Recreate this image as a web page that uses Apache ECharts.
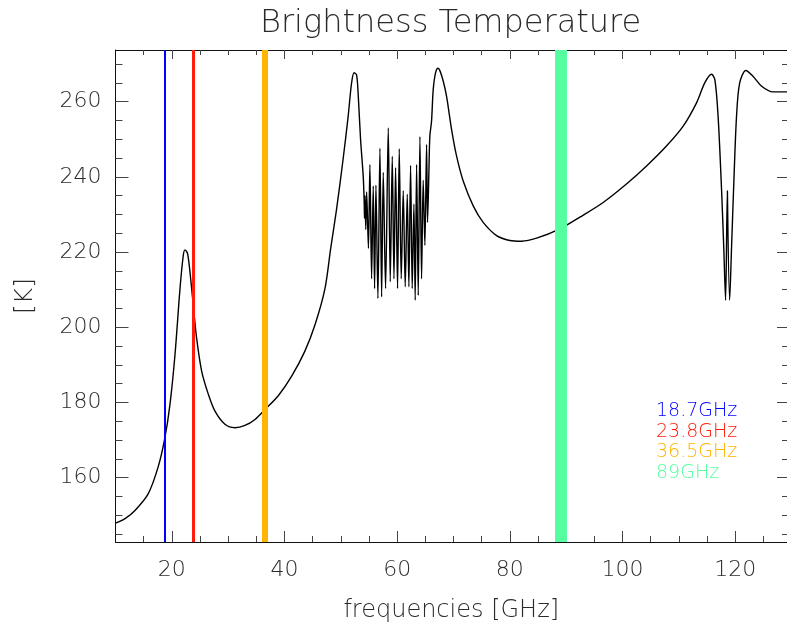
<!DOCTYPE html>
<html><head><meta charset="utf-8">
<script src="https://cdn.jsdelivr.net/npm/echarts@6/dist/echarts.min.js"></script>
<style>html,body{margin:0;padding:0;background:#fff}#c{width:787px;height:628px}</style>
</head><body><div id="c"></div>
<script>
// Brightness temperature spectrum (GHz, K)
const freq = [10.0, 11.69, 13.46, 15.8, 17.6, 18.78, 19.67, 20.56, 21.45, 22.03, 22.33, 22.8, 23.4, 23.8, 24.4, 25.3, 26.5, 27.66, 29.43, 31.2, 32.98, 34.76, 36.5, 38.9, 41.27, 43.6, 45.4, 47.18, 48.2, 49.25, 50.4, 51.3, 51.9, 52.35, 52.8, 53.1, 53.5, 53.98, 54.15,
  54.2, 54.28, 54.43, 54.58, 54.9, 55.16, 55.46, 55.75, 55.99, 56.23, 56.58, 56.94, 57.24, 57.53, 57.94, 58.42, 58.77, 59.13, 59.43, 59.72, 60.07, 60.37, 60.72, 61.08, 61.43, 61.79, 62.08, 62.38, 62.67, 62.97, 63.2, 63.45, 63.74, 64.04, 64.33, 64.62, 64.92, 65.22, 65.39, 65.63,
  65.8, 66.1, 66.4, 66.8, 67.25, 67.6, 68.17, 68.77, 69.66, 70.55, 71.72, 73.5, 75.27, 77.65, 80.0, 82.08, 84.75, 88.88, 92.43, 96.57, 100.7, 104.27, 107.8, 110.77, 113.14, 114.6, 115.8, 116.4, 116.97, 117.58, 117.98, 118.3, 118.62, 118.7, 119.02, 119.35, 119.76, 120.24, 120.8, 121.9, 123.2, 124.7, 126.7, 129.2];
const temp = [147.9, 149.1, 151.3, 155.7, 163.0, 170.7, 179.5, 192.7, 210.3, 219.1, 220.6, 219.6, 212.1, 205.9, 197.1, 188.3, 182.1, 177.7, 174.2, 173.3, 173.9, 175.5, 178.1, 181.8, 187.0, 193.6, 200.6, 210.3, 221.0, 231.5, 244.7, 256.1, 264.9, 267.7, 267.1, 261.4, 250.0, 240.0, 233.0,
  229.0, 235.0, 226.0, 236.0, 221.0, 243.3, 212.9, 237.6, 210.3, 237.8, 207.7, 247.6, 208.1, 241.2, 210.3, 253.0, 212.1, 245.5, 212.9, 242.5, 210.3, 247.5, 212.9, 236.3, 210.8, 235.4, 210.8, 243.1, 210.3, 232.8, 207.2, 243.3, 208.5, 250.7, 212.9, 239.1, 221.8, 248.6, 227.9, 241.2,
  250.8, 254.8, 263.2, 267.6, 268.9, 268.2, 265.5, 261.4, 252.6, 245.5, 238.9, 232.3, 227.9, 224.4, 223.1, 222.9, 223.7, 226.2, 229.3, 233.2, 238.1, 242.9, 248.2, 253.5, 259.7, 265.0, 267.3, 265.8, 256.1, 236.7, 220.9, 207.2, 236.3, 236.3, 207.2, 220.9, 238.5, 256.1, 265.0, 268.3, 266.7, 264.1, 262.6, 262.6];

const xMajor = [20, 40, 60, 80, 100, 120];
const xMinor = [15, 25, 30, 35, 45, 50, 55, 65, 70, 75, 85, 90, 95, 105, 110, 115, 125];
const yMajor = [160, 180, 200, 220, 240, 260];
const yMinor = [145, 150, 155, 165, 170, 175, 185, 190, 195, 205, 210, 215, 225, 230, 235, 245, 250, 255, 265, 270];

const channelFreqs = [18.7, 23.8, 36.5, 89];
const channelNames = ['18.7GHz', '23.8GHz', '36.5GHz', '89GHz'];
const channelColors = ['#0000ff', '#ff1a0a', '#ffb400', '#55ff9f'];
const channelWidths = [2, 3, 6, 12];

const X_MIN = 10, X_MAX = 129.2, Y_MIN = 142.9, Y_MAX = 273.75;
const FONT = "'DejaVu Sans', sans-serif";
const TXT = '#2a2a2a';

function xAxisDef(pos, ticks, len, labels, line, extra) {
  return Object.assign({
    type: 'value', position: pos, min: X_MIN, max: X_MAX,
    axisLine: { show: line, onZero: false, lineStyle: { color: '#111', width: 1 } },
    axisTick: { show: true, inside: true, length: len, customValues: ticks, lineStyle: { color: '#444', width: 1 } },
    axisLabel: labels ? { show: true, customValues: ticks, margin: 17, fontSize: 22, fontFamily: FONT, fontWeight: 200, color: TXT } : { show: false },
    splitLine: { show: false }
  }, extra || {});
}
function yAxisDef(pos, ticks, len, labels, line, extra) {
  return Object.assign({
    type: 'value', position: pos, min: Y_MIN, max: Y_MAX,
    axisLine: { show: line, onZero: false, lineStyle: { color: '#111', width: 1 } },
    axisTick: { show: true, inside: true, length: len, customValues: ticks, lineStyle: { color: '#444', width: 1 } },
    axisLabel: labels ? { show: true, customValues: ticks, margin: 14, fontSize: 22, fontFamily: FONT, fontWeight: 200, color: TXT } : { show: false },
    splitLine: { show: false }
  }, extra || {});
}

const chart = echarts.init(document.getElementById('c'), null, { renderer: 'canvas' });
const curve = freq.map((f, i) => [f, temp[i]]);

chart.setOption({
  animation: false,
  backgroundColor: '#fff',
  grid: { left: 115.5, right: 0, top: 50, bottom: 83, containLabel: false },
  xAxis: [
    xAxisDef('bottom', xMajor, 11, true, true, {
      name: 'frequencies [GHz]', nameLocation: 'middle', nameGap: 57,
      nameTextStyle: { fontSize: 24, fontFamily: FONT, fontWeight: 200, color: TXT }
    }),
    xAxisDef('bottom', xMinor, 6, false, false),
    xAxisDef('top', xMajor, 9, false, true),
    xAxisDef('top', xMinor, 5, false, false)
  ],
  yAxis: [
    yAxisDef('left', yMajor, 13, true, true, {
      name: '[K]', nameLocation: 'middle', nameGap: 78, nameRotate: 90,
      nameTextStyle: { fontSize: 25, fontFamily: FONT, fontWeight: 200, color: TXT }
    }),
    yAxisDef('left', yMinor, 7, false, false),
    yAxisDef('right', yMajor, 10, false, false),
    yAxisDef('right', yMinor, 5, false, false)
  ],
  graphic: [
    { type: 'text', left: 260, top: 8, style: { text: 'Brightness Temperature', fontSize: 32, fontFamily: FONT, fontWeight: 200, fill: TXT } }
  ].concat(channelNames.map((n, i) => ({
    type: 'text', left: 656, top: 402 + i * 20.4,
    style: { text: n, fontSize: 19, fontFamily: FONT, fontWeight: 200, fill: channelColors[i] }
  }))),
  series: [
    {
      type: 'line', data: [], xAxisIndex: 0, yAxisIndex: 0, z: 2, silent: true,
      markLine: {
        silent: true, symbol: ['none', 'none'], animation: false,
        label: { show: false },
        data: channelFreqs.map((f, i) => ({ xAxis: f, lineStyle: { color: channelColors[i], width: channelWidths[i], type: 'solid' } }))
      }
    },
    {
      type: 'line', data: curve, xAxisIndex: 0, yAxisIndex: 0, z: 3,
      showSymbol: false, smooth: 0.3, silent: true,
      lineStyle: { color: '#000', width: 1.4 }
    }
  ]
});
</script></body></html>
